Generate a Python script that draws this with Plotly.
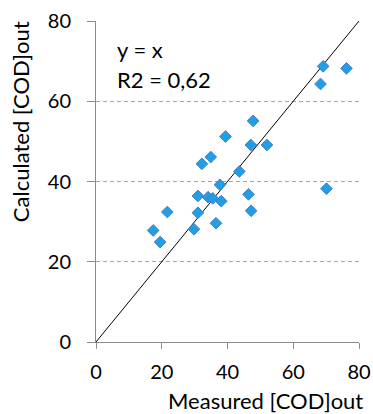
import plotly.graph_objects as go

measured = [69.1, 76.2, 68.3, 47.8, 39.4, 47.1, 52.0, 34.9, 32.2, 43.6, 37.7, 70.1,
            31.0, 34.1, 35.5, 46.4, 38.1, 21.7, 31.0, 47.2, 36.5, 29.8, 17.4, 19.5]
calculated = [68.7, 68.2, 64.3, 55.1, 51.2, 49.1, 49.1, 46.1, 44.4, 42.5, 39.2, 38.2,
              36.4, 36.1, 35.8, 36.8, 35.1, 32.4, 32.2, 32.7, 29.6, 28.1, 27.8, 24.9]
line_x = [0, 80]
line_y = [0, 80]
ticks = [0, 20, 40, 60, 80]

FONT = "Lato"

fig = go.Figure()
fig.add_trace(go.Scatter(x=line_x, y=line_y, mode="lines",
                         line=dict(color="black", width=1), showlegend=False,
                         hoverinfo="skip"))
fig.add_trace(go.Scatter(x=measured, y=calculated, mode="markers",
                         marker=dict(symbol="diamond", size=9, color="#1E9FE6",
                                     line=dict(color="#4A7EC0", width=1)),
                         showlegend=False))

fig.update_layout(
    width=373, height=414, autosize=False,
    margin=dict(l=96, r=14, t=21, b=72),
    plot_bgcolor="white", paper_bgcolor="white",
    font=dict(family=FONT, size=20, color="black"),
    xaxis=dict(range=[0, 80], tickvals=ticks, showgrid=False, zeroline=False,
               showline=True, linecolor="#8C8C8C", linewidth=1,
               ticks="outside", ticklen=6, tickcolor="#8C8C8C",
               tickfont=dict(size=20), ticklabelstandoff=6,
               fixedrange=True, automargin=False),
    yaxis=dict(range=[0, 80], tickvals=ticks, showgrid=True, gridcolor="#A6A6A6",
               griddash="4px,3px", gridwidth=1, zeroline=False,
               showline=True, linecolor="#8C8C8C", linewidth=1,
               ticks="outside", ticklen=8, tickcolor="#8C8C8C",
               tickfont=dict(size=20), ticklabelstandoff=12,
               fixedrange=True, automargin=False),
    annotations=[
        dict(text="y = x", xref="paper", yref="paper",
             x=0.072, y=0.910, xanchor="left", yanchor="middle", showarrow=False,
             font=dict(size=22)),
        dict(text="R2 = 0,62", xref="paper", yref="paper",
             x=0.072, y=0.819, xanchor="left", yanchor="middle", showarrow=False,
             font=dict(size=22)),
        dict(text="Measured [COD]out", xref="paper", yref="paper",
             x=0.643, y=-0.1822, xanchor="center", yanchor="middle", showarrow=False,
             font=dict(size=22)),
        dict(text="Calculated [COD]out", xref="paper", yref="paper",
             x=-0.289, y=0.688, xanchor="center", yanchor="middle", textangle=-90,
             showarrow=False, font=dict(size=22)),
    ],
)
fig.write_html("out.html", config={"displayModeBar": False},
               post_script="document.body.style.margin='0';")
